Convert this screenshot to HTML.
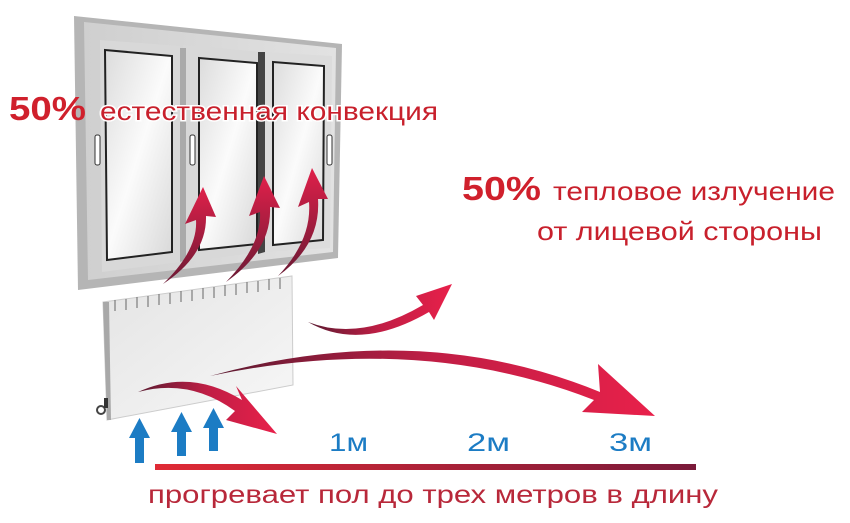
<!DOCTYPE html>
<html><head><meta charset="utf-8"><style>
html,body{margin:0;padding:0;background:#fff;width:850px;height:523px;overflow:hidden}
svg{display:block}
text{font-family:"Liberation Sans","DejaVu Sans",sans-serif}
</style></head><body>
<svg width="850" height="523" viewBox="0 0 850 523" xmlns="http://www.w3.org/2000/svg">
<defs>
<linearGradient id="glass" x1="0" y1="0" x2="1" y2="1">
<stop offset="0" stop-color="#dcdcdc"/><stop offset="0.5" stop-color="#fbfbfb"/><stop offset="1" stop-color="#d8d8d8"/></linearGradient>
<linearGradient id="frame" x1="0" y1="0" x2="1" y2="0">
<stop offset="0" stop-color="#cfcfcf"/><stop offset="1" stop-color="#e2e2e2"/></linearGradient>
<linearGradient id="rad" x1="0" y1="0" x2="1" y2="1">
<stop offset="0" stop-color="#e4e4e4"/><stop offset="1" stop-color="#f7f7f7"/></linearGradient>
<linearGradient id="ar" x1="0" y1="0" x2="1" y2="0">
<stop offset="0" stop-color="#5a1a30"/><stop offset="0.5" stop-color="#c01e45"/><stop offset="1" stop-color="#e8204a"/></linearGradient>
<linearGradient id="arup" x1="0" y1="1" x2="0" y2="0">
<stop offset="0" stop-color="#6a1a34"/><stop offset="1" stop-color="#e0204a"/></linearGradient>
<linearGradient id="line" x1="0" y1="0" x2="1" y2="0">
<stop offset="0" stop-color="#e02a35"/><stop offset="1" stop-color="#7a1a3a"/></linearGradient>
</defs>

<!-- window frame -->
<polygon points="74,16 342,44 338,258 78,290" fill="#b5b5b5"/>
<polygon points="84,22 336,48 333,252 88,280" fill="url(#frame)"/>
<!-- panes -->
<polygon points="100,40 180,46 180,262 102,272" fill="#d8d8d8"/>
<polygon points="105,50 172,56 172,252 107,260" fill="url(#glass)" stroke="#222" stroke-width="2"/>
<polygon points="183,45 262,52 262,252 183,262" fill="#d8d8d8"/>
<polygon points="199,58 257,63 257,244 199,250" fill="url(#glass)" stroke="#222" stroke-width="2"/>
<polygon points="262,52 332,56 330,248 262,252" fill="#dcdcdc"/>
<polygon points="273,62 324,66 323,240 273,245" fill="url(#glass)" stroke="#222" stroke-width="2"/>
<rect x="95" y="135" width="5" height="30" rx="2" fill="#fff" stroke="#333"/>
<rect x="190" y="135" width="5" height="30" rx="2" fill="#fff" stroke="#333"/>
<rect x="327" y="135" width="5" height="30" rx="2" fill="#fff" stroke="#333"/>
<polygon points="180,48 186,48 186,260 180,262" fill="#aaa"/>
<polygon points="258,52 265,52 265,252 258,254" fill="#444"/>

<!-- radiator -->
<polygon points="103,302 292,276 293,385 107,420" fill="url(#rad)" stroke="#ccc"/>
<polygon points="103,302 109,302 111,420 107,420" fill="#a8a8a8"/>
<g stroke="#666" stroke-width="1">
<line x1="115" y1="300" x2="115" y2="311"/><line x1="126" y1="299" x2="126" y2="310"/><line x1="137" y1="297" x2="137" y2="308"/>
<line x1="148" y1="296" x2="148" y2="307"/><line x1="159" y1="294" x2="159" y2="305"/><line x1="170" y1="293" x2="170" y2="304"/>
<line x1="181" y1="291" x2="181" y2="302"/><line x1="192" y1="290" x2="192" y2="301"/><line x1="203" y1="288" x2="203" y2="299"/>
<line x1="214" y1="287" x2="214" y2="298"/><line x1="225" y1="285" x2="225" y2="296"/><line x1="236" y1="284" x2="236" y2="295"/>
<line x1="247" y1="282" x2="247" y2="293"/><line x1="258" y1="281" x2="258" y2="292"/><line x1="269" y1="279" x2="269" y2="290"/>
<line x1="280" y1="278" x2="280" y2="289"/>
</g>
<circle cx="101" cy="410" r="4" fill="none" stroke="#444" stroke-width="2"/>
<rect x="104" y="398" width="4" height="10" fill="#333"/>

<!-- up arrows from window -->
<path d="M163,284 Q198,250 196,220 L185,224 L203,187 L216,217 L206,216 Q207,255 163,284 Z" fill="url(#arup)"/>
<path d="M226,282 Q262,245 260,212 L249,216 L264,176 L280,208 L270,207 Q272,250 226,282 Z" fill="url(#arup)"/>
<path d="M278,276 Q312,240 309,202 L298,207 L312,168 L328,199 L318,199 Q321,245 278,276 Z" fill="url(#arup)"/>

<!-- small right arrow -->
<path d="M308,322 Q360,342 423,305 L416,296 L452,284 L434,320 L429,312 Q360,352 308,322 Z" fill="url(#ar)"/>
<!-- big arrow -->
<path d="M210,376 Q420,318 600,392 L598,364 L655,416 L582,412 L594,400 Q420,332 210,376 Z" fill="url(#ar)"/>
<!-- lower arrow -->
<path d="M138,392 Q190,368 242,400 L236,386 L277,434 L226,420 L235,411 Q190,378 138,392 Z" fill="url(#ar)"/>

<!-- blue arrows -->
<g fill="#1c7cc4">
<polygon points="135,463 144,463 144,438 150,438 139.5,418 129,438 135,438"/>
<polygon points="177,456 186,456 186,432 192,432 181.5,412 171,432 177,432"/>
<polygon points="209,451 218,451 218,428 224,428 213.5,408 203,428 209,428"/>
</g>

<!-- line -->
<rect x="155" y="464" width="541" height="6" fill="url(#line)"/>

<g fill="#1c7cc4" font-size="25">
<text x="329" y="451" textLength="39" lengthAdjust="spacingAndGlyphs">1м</text>
<text x="467" y="451" textLength="43" lengthAdjust="spacingAndGlyphs">2м</text>
<text x="609" y="451" textLength="43" lengthAdjust="spacingAndGlyphs">3м</text>
</g>

<text x="148" y="503" font-size="25" fill="#b8283a" textLength="570" lengthAdjust="spacingAndGlyphs">прогревает пол до трех метров в длину</text>

<text x="9" y="120" font-size="33" font-weight="bold" fill="#d0202c" textLength="77" lengthAdjust="spacingAndGlyphs">50%</text>
<text x="100" y="120" font-size="26" fill="#c8202c" stroke="#fff" stroke-width="3" paint-order="stroke" textLength="338" lengthAdjust="spacingAndGlyphs">естественная конвекция</text>

<text x="462" y="200" font-size="33" font-weight="bold" fill="#d0202c" textLength="79" lengthAdjust="spacingAndGlyphs">50%</text>
<text x="553" y="200" font-size="26" fill="#c8202c" textLength="282" lengthAdjust="spacingAndGlyphs">тепловое излучение</text>
<text x="537" y="240" font-size="26" fill="#c8202c" textLength="285" lengthAdjust="spacingAndGlyphs">от лицевой стороны</text>
</svg>
</body></html>
